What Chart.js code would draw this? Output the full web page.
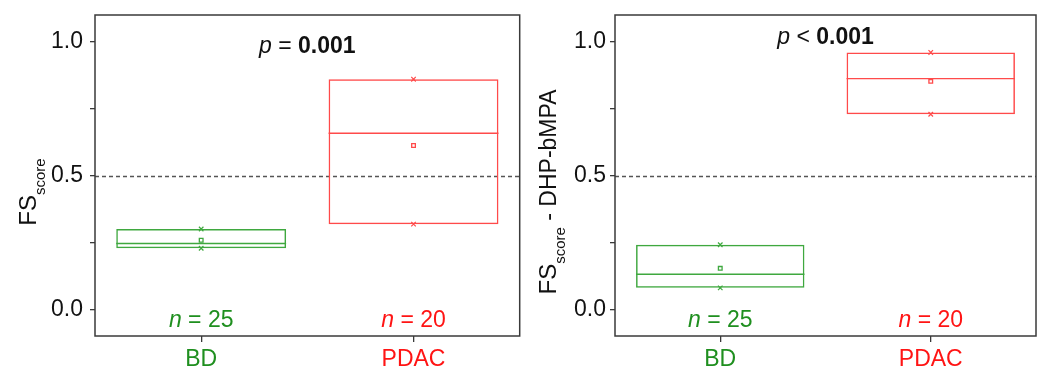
<!DOCTYPE html>
<html>
<head>
<meta charset="utf-8">
<script src="https://cdn.jsdelivr.net/npm/chart.js@4/dist/chart.umd.min.js"></script>
<style>
  html, body { margin: 0; padding: 0; background: #fff; }
  #wrap { position: relative; width: 1051px; height: 371px; }
  canvas { position: absolute; top: 0; }
</style>
</head>
<body>
<div id="wrap">
  <canvas id="c1" width="525" height="371" style="left:0px"></canvas>
  <canvas id="c2" width="526" height="371" style="left:525px"></canvas>
</div>
<script>
// ---- data ----
const categories = ['BD', 'PDAC'];
const sampleCounts = [25, 20];

const leftQ1     = [0.228, 0.318];
const leftQ3     = [0.300, 0.860];
const leftMedian = [0.246, 0.658];
const leftMean   = [0.258, 0.612];
const leftMin    = [0.228, 0.318];
const leftMax    = [0.300, 0.860];

const rightQ1     = [0.080, 0.729];
const rightQ3     = [0.241, 0.960];
const rightMedian = [0.131, 0.862];
const rightMean   = [0.153, 0.852];
const rightMin    = [0.080, 0.729];
const rightMax    = [0.241, 0.960];

const yTickValues = [0, 0.25, 0.5, 0.75, 1.0];
const yTickLabels = ['0.0', '', '0.5', '', '1.0'];
const cutoff = 0.5;
const leftP  = { rel: ' = ', val: '0.001' };
const rightP = { rel: ' < ', val: '0.001' };

// ---- styles ----
const FONT = '"Liberation Sans", Arial, sans-serif';
const boxColors  = ['#3fa83f', '#ff4a4a'];
const textColors = ['#1f8f1f', '#ff1414'];
const frameColor = '#3a3a3a';

function drawRich(ctx, parts, x, y, align) {
  let total = 0;
  parts.forEach(p => { ctx.font = p.font; p.w = ctx.measureText(p.text).width; total += p.w; });
  let cx = align === 'center' ? x - total / 2 : x;
  parts.forEach(p => {
    ctx.font = p.font;
    ctx.fillStyle = p.color || ctx.fillStyle;
    ctx.fillText(p.text, cx, y + (p.dy || 0));
    cx += p.w;
  });
}

const deco = {
  id: 'deco',
  beforeDatasetsDraw(chart, args, o) {
    const ctx = chart.ctx, a = chart.chartArea, ys = chart.scales.y;
    ctx.save();
    ctx.strokeStyle = '#555';
    ctx.lineWidth = 1.3;
    ctx.setLineDash([4, 3]);
    const yp = Math.round(ys.getPixelForValue(cutoff)) + 0.5;
    ctx.beginPath(); ctx.moveTo(a.left, yp); ctx.lineTo(a.right, yp); ctx.stroke();
    ctx.restore();
  },
  afterDatasetsDraw(chart, args, o) {
    const ctx = chart.ctx, a = chart.chartArea, ys = chart.scales.y, xs = chart.scales.x;
    ctx.save();
    const meta = chart.getDatasetMeta(0);
    meta.data.forEach((el, i) => {
      const yp = ys.getPixelForValue(o.median[i]);
      ctx.strokeStyle = boxColors[i];
      ctx.lineWidth = 1.4;
      ctx.beginPath(); ctx.moveTo(el.x - el.width / 2, yp); ctx.lineTo(el.x + el.width / 2, yp); ctx.stroke();
    });
    ctx.strokeStyle = frameColor;
    ctx.lineWidth = 1.5;
    ctx.strokeRect(a.left, a.top, a.right - a.left, a.bottom - a.top);
    ctx.textBaseline = 'alphabetic';
    drawRich(ctx, [
      { text: 'p', font: 'italic 23px ' + FONT, color: '#111' },
      { text: o.p.rel, font: '23px ' + FONT, color: '#111' },
      { text: o.p.val, font: 'bold 23px ' + FONT, color: '#111' }
    ], (a.left + a.right) / 2, o.pY, 'center');
    categories.forEach((c, i) => {
      const xp = xs.getPixelForValue(i);
      drawRich(ctx, [
        { text: 'n', font: 'italic 23px ' + FONT, color: textColors[i] },
        { text: ' = ' + sampleCounts[i], font: '23px ' + FONT, color: textColors[i] }
      ], xp, a.bottom - 9, 'center');
    });
    ctx.translate(o.titleX, 0);
    ctx.rotate(-Math.PI / 2);
    const parts = [
      { text: 'FS', font: '24px ' + FONT, color: '#111' },
      { text: 'score', font: '15px ' + FONT, color: '#111', dy: 9 }
    ];
    if (o.titleRest) parts.push({ text: o.titleRest, font: '23px ' + FONT, color: '#111' });
    drawRich(ctx, parts, -192, 0, 'center');
    ctx.restore();
  }
};

function makeChart(id, q1, q3, med, mean, mn, mx, opts) {
  const ctx = document.getElementById(id).getContext('2d');
  return new Chart(ctx, {
    type: 'bar',
    data: {
      labels: categories,
      datasets: [
        {
          type: 'bar',
          data: categories.map((c, i) => [q1[i], q3[i]]),
          backgroundColor: 'rgba(0,0,0,0)',
          borderColor: boxColors,
          borderWidth: 1.5,
          borderSkipped: false,
          barPercentage: 0.8,
          categoryPercentage: 1.0
        },
        {
          type: 'line',
          data: mean,
          showLine: false,
          pointStyle: 'rect',
          pointRadius: 2.6,
          pointBorderWidth: 1.3,
          pointBackgroundColor: '#fff',
          pointBorderColor: boxColors
        },
        {
          type: 'line',
          data: mn,
          showLine: false,
          pointStyle: 'crossRot',
          pointRadius: 3.2,
          pointBorderWidth: 1.2,
          pointBorderColor: boxColors
        },
        {
          type: 'line',
          data: mx,
          showLine: false,
          pointStyle: 'crossRot',
          pointRadius: 3.2,
          pointBorderWidth: 1.2,
          pointBorderColor: boxColors
        }
      ]
    },
    options: {
      responsive: false,
      animation: false,
      events: [],
      layout: { padding: { top: 15, right: opts.padRight, bottom: 0, left: 0 } },
      plugins: {
        legend: { display: false },
        tooltip: { enabled: false },
        deco: { median: med, p: opts.p, pY: opts.pY, titleX: opts.titleX, titleRest: opts.titleRest }
      },
      scales: {
        x: {
          type: 'category',
          offset: true,
          grid: { offset: false, drawOnChartArea: false, drawTicks: true, tickLength: 6, color: frameColor, lineWidth: 1.3 },
          border: { display: false },
          ticks: {
            color: (c) => textColors[c.index],
            font: { family: FONT, size: 23 },
            padding: 4,
            maxRotation: 0
          },
          afterFit: (s) => { s.height = 35; s.paddingLeft = 0; s.paddingRight = 0; }
        },
        y: {
          min: -0.1,
          max: 1.1,
          afterBuildTicks: (s) => { s.ticks = yTickValues.map(v => ({ value: v })); },
          grid: { drawOnChartArea: false, drawTicks: true, tickLength: 5, color: frameColor, lineWidth: 1.3 },
          border: { display: false },
          ticks: {
            color: '#111',
            font: { family: FONT, size: 23 },
            padding: opts.yPad,
            callback: (v, i) => yTickLabels[i]
          },
          afterFit: (s) => { s.width = opts.yWidth; s.paddingTop = 0; s.paddingBottom = 0; }
        }
      }
    },
    plugins: [deco]
  });
}

makeChart('c1', leftQ1, leftQ3, leftMedian, leftMean, leftMin, leftMax,
  { padRight: 2, yWidth: 95, yPad: 7, p: leftP, pY: 53, titleX: 36, titleRest: '' });
makeChart('c2', rightQ1, rightQ3, rightMedian, rightMean, rightMin, rightMax,
  { padRight: 15, yWidth: 90, yPad: 4, p: rightP, pY: 44, titleX: 31, titleRest: ' - DHP-bMPA' });
</script>
</body>
</html>
